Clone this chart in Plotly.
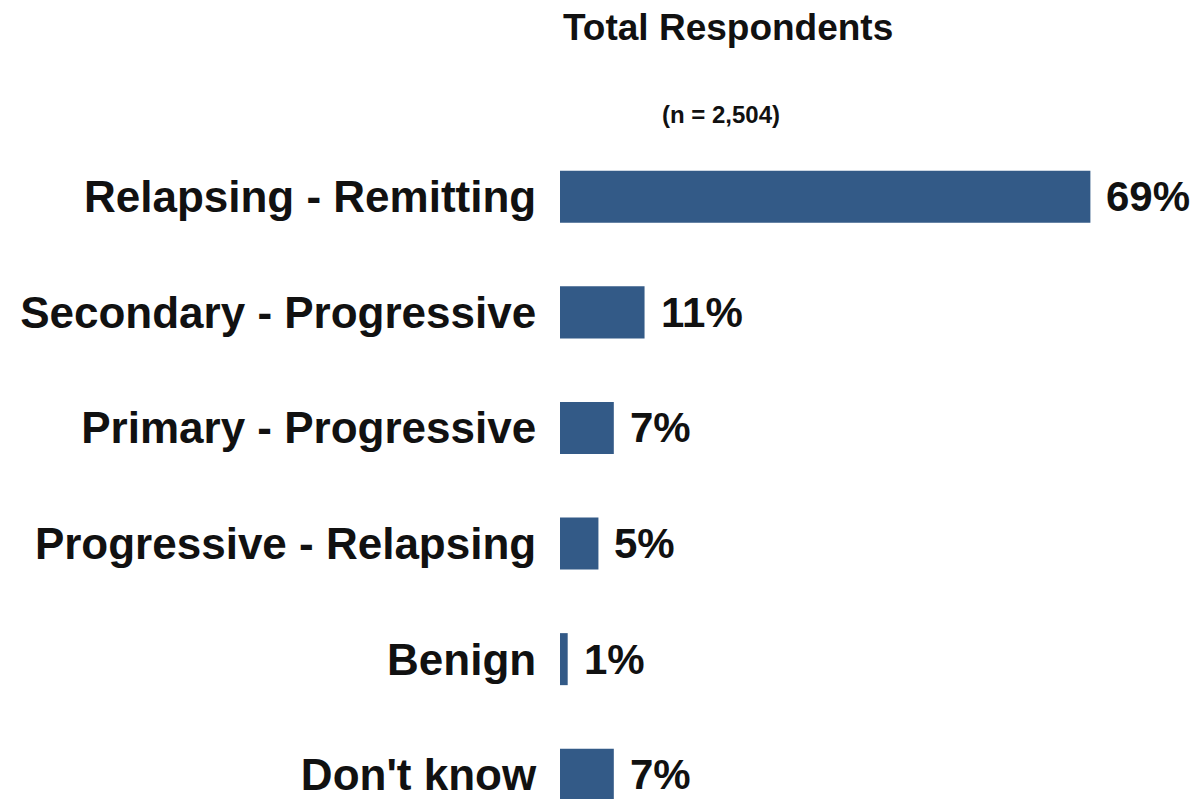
import plotly.graph_objects as go

categories = ["Relapsing - Remitting", "Secondary - Progressive", "Primary - Progressive",
              "Progressive - Relapsing", "Benign", "Don't know"]
percent = [69, 11, 7, 5, 1, 7]

bar_color = "#335A87"
text_color = "#111111"
font_family = "Liberation Sans, Arial, sans-serif"

page_w, page_h = 1198, 799
plot_l, plot_t = 560, 139
plot_w, plot_h = page_w - plot_l, page_h - plot_t


def to_paper(px, py):
    """Convert page pixel coordinates into paper coordinates of the plot area."""
    return (px - plot_l) / plot_w, 1 - (py - plot_t) / plot_h


fig = go.Figure(go.Bar(
    x=percent,
    y=categories,
    orientation="h",
    marker=dict(color=bar_color, line=dict(width=0)),
    hoverinfo="skip",
))

# value labels to the right of each bar
for cat, val in zip(categories, percent):
    fig.add_annotation(
        x=val, y=cat, text=f"<b>{val}%</b>", showarrow=False,
        xanchor="left", yanchor="middle", xshift=14,
        font=dict(family=font_family, size=42, color=text_color),
    )

tx, ty = to_paper(728, 28)
fig.add_annotation(
    x=tx, y=ty, xref="paper", yref="paper", text="<b>Total Respondents</b>",
    showarrow=False, xanchor="center", yanchor="middle",
    font=dict(family=font_family, size=37, color=text_color),
)
nx, ny = to_paper(721, 114)
fig.add_annotation(
    x=nx, y=ny, xref="paper", yref="paper", text="<b>(n = 2,504)</b>",
    showarrow=False, xanchor="center", yanchor="middle",
    font=dict(family=font_family, size=24, color=text_color),
)

fig.update_layout(
    width=page_w, height=page_h,
    margin=dict(l=plot_l, r=0, t=plot_t, b=0),
    paper_bgcolor="white", plot_bgcolor="white",
    showlegend=False,
    bargap=0.55,
    font=dict(family=font_family, color=text_color),
    xaxis=dict(range=[0, 83.0], visible=False, fixedrange=True),
    yaxis=dict(
        type="category", range=[5.21, -0.5],
        showgrid=False, zeroline=False, showline=False,
        ticks="outside", ticklen=0, ticklabelstandoff=14,
        tickfont=dict(family=font_family, size=44, color=text_color),
        tickprefix="<b>", ticksuffix="</b>",
    ),
)

fig.write_html("out.html")
